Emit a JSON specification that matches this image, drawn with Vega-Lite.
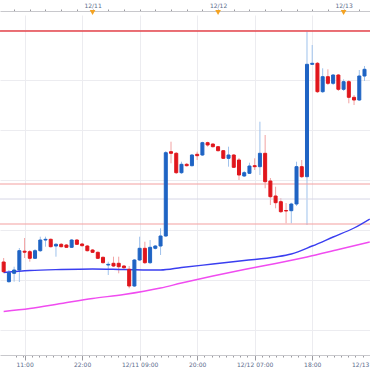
{
  "$schema": "https://vega.github.io/schema/vega-lite/v6.json",
  "width": 370,
  "height": 340,
  "autosize": {"type": "none"},
  "padding": {"left": 0, "right": 0, "top": 15, "bottom": 15},
  "background": "white",
  "config": {"view": {"stroke": null}},
  "datasets": {
    "candles": [
      {"t": "2015-12-10T07:00:00Z", "op": 121.08, "hi": 121.12, "lo": 120.97, "cl": 120.983},
      {"t": "2015-12-10T08:00:00Z", "op": 120.883, "hi": 121.0, "lo": 120.873, "cl": 120.973},
      {"t": "2015-12-10T09:00:00Z", "op": 120.967, "hi": 121.033, "lo": 120.883, "cl": 121.0},
      {"t": "2015-12-10T10:00:00Z", "op": 121.0, "hi": 121.22, "lo": 120.88, "cl": 121.193},
      {"t": "2015-12-10T11:00:00Z", "op": 121.188, "hi": 121.32, "lo": 121.12, "cl": 121.178},
      {"t": "2015-12-10T12:00:00Z", "op": 121.183, "hi": 121.2, "lo": 121.083, "cl": 121.117},
      {"t": "2015-12-10T13:00:00Z", "op": 121.117, "hi": 121.21, "lo": 121.11, "cl": 121.193},
      {"t": "2015-12-10T14:00:00Z", "op": 121.193, "hi": 121.333, "lo": 121.18, "cl": 121.3},
      {"t": "2015-12-10T15:00:00Z", "op": 121.3, "hi": 121.333, "lo": 121.233, "cl": 121.307},
      {"t": "2015-12-10T16:00:00Z", "op": 121.307, "hi": 121.315, "lo": 121.225, "cl": 121.233},
      {"t": "2015-12-10T17:00:00Z", "op": 121.24, "hi": 121.27, "lo": 121.133, "cl": 121.257},
      {"t": "2015-12-10T18:00:00Z", "op": 121.257, "hi": 121.27, "lo": 121.225, "cl": 121.233},
      {"t": "2015-12-10T19:00:00Z", "op": 121.25, "hi": 121.26, "lo": 121.22, "cl": 121.227},
      {"t": "2015-12-10T20:00:00Z", "op": 121.227, "hi": 121.31, "lo": 121.22, "cl": 121.3},
      {"t": "2015-12-10T21:00:00Z", "op": 121.3, "hi": 121.31, "lo": 121.25, "cl": 121.257},
      {"t": "2015-12-10T22:00:00Z", "op": 121.26, "hi": 121.27, "lo": 121.235, "cl": 121.243},
      {"t": "2015-12-10T23:00:00Z", "op": 121.24, "hi": 121.25, "lo": 121.185, "cl": 121.193},
      {"t": "2015-12-11T00:00:00Z", "op": 121.2, "hi": 121.21, "lo": 121.17, "cl": 121.177},
      {"t": "2015-12-11T01:00:00Z", "op": 121.177, "hi": 121.185, "lo": 121.11, "cl": 121.117},
      {"t": "2015-12-11T02:00:00Z", "op": 121.127, "hi": 121.135, "lo": 121.065, "cl": 121.073},
      {"t": "2015-12-11T03:00:00Z", "op": 121.05, "hi": 121.083, "lo": 120.95, "cl": 121.057},
      {"t": "2015-12-11T04:00:00Z", "op": 121.067, "hi": 121.133, "lo": 121.03, "cl": 121.04},
      {"t": "2015-12-11T05:00:00Z", "op": 121.067, "hi": 121.133, "lo": 120.967, "cl": 121.033},
      {"t": "2015-12-11T06:00:00Z", "op": 121.04, "hi": 121.05, "lo": 121.01, "cl": 121.023},
      {"t": "2015-12-11T07:00:00Z", "op": 121.007, "hi": 121.04, "lo": 120.817, "cl": 120.84},
      {"t": "2015-12-11T08:00:00Z", "op": 120.84, "hi": 121.11, "lo": 120.83, "cl": 121.1},
      {"t": "2015-12-11T09:00:00Z", "op": 121.1, "hi": 121.333, "lo": 121.09, "cl": 121.217},
      {"t": "2015-12-11T10:00:00Z", "op": 121.217, "hi": 121.283, "lo": 121.06, "cl": 121.073},
      {"t": "2015-12-11T11:00:00Z", "op": 121.073, "hi": 121.3, "lo": 121.06, "cl": 121.227},
      {"t": "2015-12-11T12:00:00Z", "op": 121.217, "hi": 121.25, "lo": 121.205, "cl": 121.24},
      {"t": "2015-12-11T13:00:00Z", "op": 121.24, "hi": 121.417, "lo": 121.15, "cl": 121.34},
      {"t": "2015-12-11T14:00:00Z", "op": 121.34, "hi": 122.19, "lo": 121.33, "cl": 122.173},
      {"t": "2015-12-11T15:00:00Z", "op": 122.183, "hi": 122.283, "lo": 122.067, "cl": 122.167},
      {"t": "2015-12-11T16:00:00Z", "op": 122.167, "hi": 122.18, "lo": 121.96, "cl": 121.973},
      {"t": "2015-12-11T17:00:00Z", "op": 121.973, "hi": 122.083, "lo": 121.96, "cl": 122.057},
      {"t": "2015-12-11T18:00:00Z", "op": 122.057, "hi": 122.07, "lo": 122.035, "cl": 122.043},
      {"t": "2015-12-11T19:00:00Z", "op": 122.043, "hi": 122.16, "lo": 122.035, "cl": 122.15},
      {"t": "2015-12-11T20:00:00Z", "op": 122.157, "hi": 122.183, "lo": 122.1, "cl": 122.143},
      {"t": "2015-12-11T21:00:00Z", "op": 122.15, "hi": 122.283, "lo": 122.14, "cl": 122.273},
      {"t": "2015-12-11T22:00:00Z", "op": 122.273, "hi": 122.283, "lo": 122.233, "cl": 122.25},
      {"t": "2015-12-11T23:00:00Z", "op": 122.26, "hi": 122.265, "lo": 122.225, "cl": 122.233},
      {"t": "2015-12-12T00:00:00Z", "op": 122.233, "hi": 122.24, "lo": 122.185, "cl": 122.193},
      {"t": "2015-12-12T01:00:00Z", "op": 122.193, "hi": 122.2, "lo": 122.11, "cl": 122.117},
      {"t": "2015-12-12T02:00:00Z", "op": 122.117, "hi": 122.233, "lo": 122.033, "cl": 122.15},
      {"t": "2015-12-12T03:00:00Z", "op": 122.15, "hi": 122.16, "lo": 122.02, "cl": 122.027},
      {"t": "2015-12-12T04:00:00Z", "op": 122.1, "hi": 122.12, "lo": 121.9, "cl": 121.95},
      {"t": "2015-12-12T05:00:00Z", "op": 121.94, "hi": 121.99, "lo": 121.93, "cl": 121.973},
      {"t": "2015-12-12T06:00:00Z", "op": 121.967, "hi": 122.073, "lo": 121.96, "cl": 122.04},
      {"t": "2015-12-12T07:00:00Z", "op": 122.043, "hi": 122.117, "lo": 122.0, "cl": 122.033},
      {"t": "2015-12-12T08:00:00Z", "op": 122.033, "hi": 122.483, "lo": 121.95, "cl": 122.167},
      {"t": "2015-12-12T09:00:00Z", "op": 122.167, "hi": 122.35, "lo": 121.817, "cl": 121.883},
      {"t": "2015-12-12T10:00:00Z", "op": 121.89, "hi": 121.92, "lo": 121.65, "cl": 121.733},
      {"t": "2015-12-12T11:00:00Z", "op": 121.74, "hi": 121.833, "lo": 121.617, "cl": 121.673},
      {"t": "2015-12-12T12:00:00Z", "op": 121.683, "hi": 121.72, "lo": 121.57, "cl": 121.583},
      {"t": "2015-12-12T13:00:00Z", "op": 121.595, "hi": 121.67, "lo": 121.467, "cl": 121.59},
      {"t": "2015-12-12T14:00:00Z", "op": 121.593, "hi": 121.673, "lo": 121.467, "cl": 121.66},
      {"t": "2015-12-12T15:00:00Z", "op": 121.66, "hi": 122.083, "lo": 121.64, "cl": 122.033},
      {"t": "2015-12-12T16:00:00Z", "op": 122.033, "hi": 122.1, "lo": 121.92, "cl": 121.933},
      {"t": "2015-12-12T17:00:00Z", "op": 121.933, "hi": 123.383, "lo": 121.45, "cl": 123.057},
      {"t": "2015-12-12T18:00:00Z", "op": 123.057, "hi": 123.25, "lo": 123.05, "cl": 123.067},
      {"t": "2015-12-12T19:00:00Z", "op": 123.067, "hi": 123.08, "lo": 122.77, "cl": 122.783},
      {"t": "2015-12-12T20:00:00Z", "op": 122.783, "hi": 123.017, "lo": 122.77, "cl": 122.933},
      {"t": "2015-12-12T21:00:00Z", "op": 122.933, "hi": 123.007, "lo": 122.85, "cl": 122.867},
      {"t": "2015-12-12T22:00:00Z", "op": 122.867, "hi": 122.96, "lo": 122.85, "cl": 122.95},
      {"t": "2015-12-12T23:00:00Z", "op": 122.95, "hi": 122.96, "lo": 122.79, "cl": 122.807},
      {"t": "2015-12-13T00:00:00Z", "op": 122.807, "hi": 122.907, "lo": 122.79, "cl": 122.883},
      {"t": "2015-12-13T01:00:00Z", "op": 122.883, "hi": 122.9, "lo": 122.667, "cl": 122.727},
      {"t": "2015-12-13T02:00:00Z", "op": 122.727, "hi": 122.75, "lo": 122.65, "cl": 122.7},
      {"t": "2015-12-13T03:00:00Z", "op": 122.7, "hi": 123.0, "lo": 122.69, "cl": 122.94},
      {"t": "2015-12-13T04:00:00Z", "op": 122.94, "hi": 123.04, "lo": 122.89, "cl": 123.007}
    ],
    "ma": [
      {"t": "2015-12-10T07:00:00Z", "s": "short", "v": 120.975},
      {"t": "2015-12-10T12:00:00Z", "s": "short", "v": 120.995},
      {"t": "2015-12-10T18:00:00Z", "s": "short", "v": 121.005},
      {"t": "2015-12-11T00:00:00Z", "s": "short", "v": 121.01},
      {"t": "2015-12-11T06:00:00Z", "s": "short", "v": 121.005},
      {"t": "2015-12-11T13:00:00Z", "s": "short", "v": 121.0},
      {"t": "2015-12-11T17:00:00Z", "s": "short", "v": 121.025},
      {"t": "2015-12-11T23:00:00Z", "s": "short", "v": 121.06},
      {"t": "2015-12-12T05:00:00Z", "s": "short", "v": 121.095},
      {"t": "2015-12-12T11:00:00Z", "s": "short", "v": 121.13},
      {"t": "2015-12-12T14:00:00Z", "s": "short", "v": 121.16},
      {"t": "2015-12-12T18:00:00Z", "s": "short", "v": 121.24},
      {"t": "2015-12-12T22:00:00Z", "s": "short", "v": 121.33},
      {"t": "2015-12-13T02:00:00Z", "s": "short", "v": 121.42},
      {"t": "2015-12-13T05:00:00Z", "s": "short", "v": 121.51},
      {"t": "2015-12-10T07:00:00Z", "s": "long", "v": 120.585},
      {"t": "2015-12-10T12:00:00Z", "s": "long", "v": 120.615},
      {"t": "2015-12-10T18:00:00Z", "s": "long", "v": 120.665},
      {"t": "2015-12-11T00:00:00Z", "s": "long", "v": 120.715},
      {"t": "2015-12-11T06:00:00Z", "s": "long", "v": 120.755},
      {"t": "2015-12-11T13:00:00Z", "s": "long", "v": 120.82},
      {"t": "2015-12-11T17:00:00Z", "s": "long", "v": 120.87},
      {"t": "2015-12-11T23:00:00Z", "s": "long", "v": 120.94},
      {"t": "2015-12-12T05:00:00Z", "s": "long", "v": 121.005},
      {"t": "2015-12-12T11:00:00Z", "s": "long", "v": 121.065},
      {"t": "2015-12-12T17:00:00Z", "s": "long", "v": 121.13},
      {"t": "2015-12-12T23:00:00Z", "s": "long", "v": 121.205},
      {"t": "2015-12-13T05:00:00Z", "s": "long", "v": 121.28}
    ],
    "levels": [
      {"lv": 123.39, "kind": "high"},
      {"lv": 121.86, "kind": "band"},
      {"lv": 121.46, "kind": "band"},
      {"lv": 121.71, "kind": "mid"}
    ],
    "days": [
      {"t": "2015-12-11T00:00:00Z"},
      {"t": "2015-12-12T00:00:00Z"},
      {"t": "2015-12-13T00:00:00Z"}
    ]
  },
  "data": {"name": "candles"},
  "resolve": {"axis": {"x": "independent"}},
  "layer": [
    {
      "mark": {"type": "rule", "strokeWidth": 1},
      "encoding": {
        "x": {
          "field": "t", "type": "temporal",
          "scale": {
            "type": "utc",
            "domain": [
              {"year": 2015, "month": 12, "date": 10, "hours": 7, "minutes": 15, "seconds": 21, "utc": true},
              {"year": 2015, "month": 12, "date": 13, "hours": 4, "minutes": 5, "seconds": 35, "utc": true}
            ]
          },
          "axis": {
            "orient": "bottom",
            "title": null,
            "values": [
              1449739350000, 1449744300000, 1449745200000, 1449750150000, 1449755100000, 1449760050000, 1449765000000, 1449769950000, 1449774900000, 1449779850000,
              1449784800000, 1449789750000, 1449794700000, 1449799650000, 1449804600000, 1449809550000, 1449814500000, 1449819450000,
              1449824400000, 1449829350000, 1449834300000, 1449839250000, 1449844200000, 1449849150000, 1449854100000, 1449859050000,
              1449864000000, 1449868950000, 1449873900000, 1449878850000, 1449883800000, 1449888750000, 1449893700000, 1449898650000,
              1449903600000, 1449908550000, 1449913500000, 1449918450000, 1449923400000, 1449928350000, 1449933300000, 1449938250000,
              1449943200000, 1449948150000, 1449953100000, 1449958050000, 1449963000000, 1449967950000, 1449972900000, 1449977850000,
              1449982800000
            ],
            "labelExpr": "(time(datum.value) - 1449745200000) % 39600000 != 0 ? '' : (utchours(datum.value) < 11 ? utcFormat(datum.value, '%m/%d %H:%M') : utcFormat(datum.value, '%H:%M'))",
            "grid": true,
            "gridColor": "#ececf0",
            "gridOpacity": {"condition": {"test": "(time(datum.value) - 1449745200000) % 39600000 == 0", "value": 1}, "value": 0},
            "tickSize": {"condition": {"test": "(time(datum.value) - 1449745200000) % 39600000 == 0", "value": 5}, "value": 2},
            "domainColor": "#c8c8cc",
            "tickColor": "#9a9aa0",
            "labelFont": "DejaVu Sans",
            "labelFontSize": 6,
            "labelColor": "#5b6b8b",
            "labelPadding": 1,
            "labelBound": false,
            "labelFlush": false,
            "labelOverlap": false
          }
        },
        "y": {
          "field": "lo", "type": "quantitative",
          "scale": {"domain": [120.15, 123.55], "nice": false, "zero": false},
          "axis": {
            "title": null, "labels": false, "ticks": false, "domain": false,
            "grid": true, "gridColor": "#ececf0",
            "values": [120.4, 120.9, 121.4, 121.9, 122.4, 122.9, 123.4]
          }
        },
        "y2": {"field": "hi"},
        "color": {"condition": {"test": "datum.cl >= datum.op", "value": "#9fc2ec"}, "value": "#f2a2a2"}
      }
    },
    {
      "data": {"name": "levels"},
      "mark": {"type": "rule"},
      "encoding": {
        "y": {"field": "lv", "type": "quantitative"},
        "color": {"field": "kind", "type": "nominal", "scale": {"domain": ["high", "band", "mid"], "range": ["#e6434a", "#f3a0a0", "#d6d6e6"]}, "legend": null},
        "strokeWidth": {"field": "kind", "type": "nominal", "scale": {"domain": ["high", "band", "mid"], "range": [1.3, 1, 2]}, "legend": null}
      }
    },
    {
      "data": {"name": "ma"},
      "mark": {"type": "line", "strokeWidth": 1.4, "interpolate": "monotone"},
      "encoding": {
        "x": {"field": "t", "type": "temporal", "axis": null},
        "y": {"field": "v", "type": "quantitative"},
        "stroke": {"field": "s", "type": "nominal", "scale": {"domain": ["short", "long"], "range": ["#3a3ef0", "#f04cf0"]}, "legend": null}
      }
    },
    {
      "mark": {"type": "bar", "size": 3, "strokeWidth": 1},
      "encoding": {
        "x": {"field": "t", "type": "temporal", "axis": null},
        "y": {"field": "op", "type": "quantitative"},
        "y2": {"field": "cl"},
        "fill": {"condition": {"test": "datum.cl >= datum.op", "value": "#1f64c4"}, "value": "#e0161c"},
        "stroke": {"condition": {"test": "datum.cl >= datum.op", "value": "#1f64c4"}, "value": "#e0161c"}
      }
    },
    {
      "data": {"name": "days"},
      "mark": {"type": "point", "shape": "triangle-down", "filled": true, "size": 32, "color": "#f5a321", "opacity": 1},
      "encoding": {
        "x": {
          "field": "t", "type": "temporal",
          "axis": {
            "orient": "top",
            "offset": 4,
            "title": null,
            "grid": false,
            "values": [
              1449738000000, 1449748800000, 1449759600000, 1449770400000, 1449781200000, 1449792000000, 1449802800000, 1449813600000,
              1449824400000, 1449835200000, 1449846000000, 1449856800000, 1449867600000, 1449878400000, 1449889200000, 1449900000000,
              1449910800000, 1449921600000, 1449932400000, 1449943200000, 1449954000000, 1449964800000, 1449975600000
            ],
            "labelExpr": "utchours(datum.value) == 0 ? utcFormat(datum.value, '%m/%d') : ''",
            "domainColor": "#c8c8cc",
            "tickColor": "#9a9aa0",
            "tickSize": 2,
            "labelFont": "DejaVu Sans",
            "labelFontSize": 6,
            "labelColor": "#5b6b8b",
            "labelPadding": 1,
            "labelBound": false,
            "labelFlush": false,
            "labelOverlap": false
          }
        },
        "y": {"datum": 123.575, "type": "quantitative"}
      }
    }
  ]
}
